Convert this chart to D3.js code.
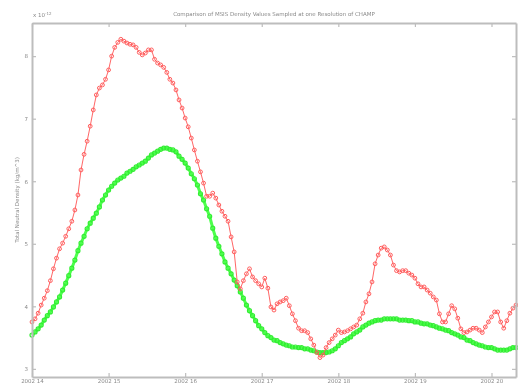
<!DOCTYPE html>
<html>
<head>
<meta charset="utf-8">
<script src="https://cdn.jsdelivr.net/npm/d3@7/dist/d3.min.js"></script>
<style>
  html, body { margin: 0; padding: 0; background: #fff; }
  svg { display: block; }
  text { font-family: "DejaVu Sans", sans-serif; }
</style>
</head>
<body>
<div id="chart"></div>
<script>
// Sampling cadence of the density series (day of month)
const startDay = 14.0;
const stepDay = 0.04;

// Density along the CHAMP orbit, units of 1e-12 kg/m^3
const champDensity = [
  3.75,3.80,3.89,4.02,4.13,4.25,4.41,4.60,4.77,4.92,
  5.01,5.12,5.24,5.36,5.54,5.78,6.18,6.43,6.64,6.88,
  7.14,7.38,7.49,7.54,7.63,7.78,8.00,8.14,8.22,8.27,
  8.24,8.21,8.19,8.18,8.14,8.06,8.02,8.05,8.10,8.10,
  7.95,7.89,7.86,7.82,7.74,7.63,7.57,7.46,7.30,7.17,
  7.01,6.87,6.69,6.50,6.32,6.15,5.97,5.76,5.76,5.81,
  5.73,5.62,5.52,5.44,5.36,5.11,4.87,4.39,4.28,4.41,
  4.52,4.60,4.47,4.41,4.36,4.31,4.45,4.29,3.99,3.94,
  4.04,4.07,4.09,4.13,4.01,3.88,3.77,3.65,3.61,3.61,
  3.58,3.48,3.38,3.26,3.18,3.22,3.34,3.42,3.48,3.54,
  3.62,3.58,3.59,3.61,3.64,3.67,3.70,3.80,3.89,4.07,
  4.20,4.39,4.68,4.82,4.93,4.95,4.90,4.82,4.66,4.57,
  4.55,4.57,4.57,4.53,4.50,4.45,4.36,4.31,4.31,4.26,
  4.21,4.15,4.10,3.88,3.75,3.75,3.88,4.01,3.96,3.81,
  3.64,3.58,3.59,3.62,3.65,3.65,3.62,3.58,3.67,3.75,
  3.83,3.91,3.91,3.75,3.65,3.77,3.89,3.97,4.02
];

// MSIS model density sampled at the same times, units of 1e-12 kg/m^3
const msisDensity = [
  3.54,3.59,3.64,3.70,3.78,3.85,3.91,3.99,4.07,4.15,
  4.26,4.37,4.49,4.61,4.74,4.89,5.01,5.12,5.24,5.33,
  5.41,5.49,5.59,5.70,5.78,5.86,5.92,5.97,6.02,6.05,
  6.08,6.13,6.16,6.19,6.23,6.26,6.29,6.32,6.37,6.42,
  6.45,6.48,6.51,6.53,6.53,6.51,6.50,6.47,6.40,6.35,
  6.29,6.21,6.12,6.04,5.94,5.80,5.70,5.56,5.44,5.25,
  5.09,4.96,4.84,4.71,4.61,4.52,4.42,4.33,4.23,4.13,
  4.02,3.93,3.85,3.77,3.69,3.64,3.58,3.53,3.50,3.46,
  3.45,3.42,3.40,3.38,3.37,3.35,3.35,3.34,3.34,3.32,
  3.32,3.30,3.29,3.27,3.26,3.26,3.26,3.27,3.29,3.32,
  3.37,3.42,3.45,3.48,3.51,3.56,3.59,3.62,3.67,3.70,
  3.73,3.75,3.77,3.78,3.78,3.80,3.80,3.80,3.80,3.80,
  3.78,3.78,3.78,3.77,3.77,3.75,3.75,3.73,3.72,3.72,
  3.70,3.69,3.67,3.65,3.64,3.62,3.61,3.58,3.56,3.54,
  3.51,3.50,3.46,3.45,3.42,3.40,3.38,3.37,3.35,3.34,
  3.34,3.32,3.30,3.30,3.30,3.30,3.32,3.34,3.34
];

const xTickValues = [14, 15, 16, 17, 18, 19, 20];
const xTickLabels = ["2002 14", "2002 15", "2002 16", "2002 17", "2002 18", "2002 19", "2002 20"];
const yTickValues = [3, 4, 5, 6, 7, 8];
const yTickLabels = ["3", "4", "5", "6", "7", "8"];

const titleText = "Comparison of MSIS Density Values Sampled at one Resolution of CHAMP";
const yLabelText = "Total Neutral Density (kg/m^3)";

const W = 518, H = 387;
const m = { left: 32, right: 2, top: 23, bottom: 10 };

const times = champDensity.map((_, i) => startDay + i * stepDay);

const x = d3.scaleLinear()
  .domain([startDay, times[times.length - 1]])
  .range([m.left, W - m.right]);
const y = d3.scaleLinear()
  .domain([2.87, 8.53])
  .range([H - m.bottom, m.top]);

const svg = d3.select("#chart").append("svg")
  .attr("width", W).attr("height", H);

const defs = svg.append("defs");
defs.append("filter").attr("id", "soft")
  .attr("x", "-5%").attr("y", "-5%").attr("width", "110%").attr("height", "110%")
  .append("feGaussianBlur").attr("stdDeviation", 0.55);

const g = svg.append("g").attr("filter", "url(#soft)");

const axisColor = "#bdbdbd";
const textColor = "#8a8a8a";

// Series
const lineGen = d3.line().x((d, i) => x(times[i])).y(d => y(d));

g.append("path").datum(msisDensity)
  .attr("d", lineGen)
  .attr("fill", "none")
  .attr("stroke", "#4dff4d")
  .attr("stroke-width", 3);
g.append("g").selectAll("circle").data(msisDensity).join("circle")
  .attr("cx", (d, i) => x(times[i]))
  .attr("cy", d => y(d))
  .attr("r", 2)
  .attr("fill", "none")
  .attr("stroke", "#33ee33")
  .attr("stroke-width", 1.2);

g.append("path").datum(champDensity)
  .attr("d", lineGen)
  .attr("fill", "none")
  .attr("stroke", "#ff5555")
  .attr("stroke-width", 0.9);
g.append("g").selectAll("circle").data(champDensity).join("circle")
  .attr("cx", (d, i) => x(times[i]))
  .attr("cy", d => y(d))
  .attr("r", 1.9)
  .attr("fill", "none")
  .attr("stroke", "#ff5c5c")
  .attr("stroke-width", 1);

// Axes box with inward ticks
const x0 = m.left, x1 = W - m.right, y0 = H - m.bottom, y1 = m.top;

const xAxisB = d3.axisBottom(x).tickValues(xTickValues)
  .tickFormat((d, i) => xTickLabels[i]).tickSizeInner(-4).tickSizeOuter(0).tickPadding(2);
const xAxisT = d3.axisTop(x).tickValues(xTickValues)
  .tickFormat("").tickSizeInner(-4).tickSizeOuter(0);
const yAxisL = d3.axisLeft(y).tickValues(yTickValues)
  .tickFormat((d, i) => yTickLabels[i]).tickSizeInner(-4).tickSizeOuter(0).tickPadding(4);
const yAxisR = d3.axisRight(y).tickValues(yTickValues)
  .tickFormat("").tickSizeInner(-4).tickSizeOuter(0);

function styleAxis(sel) {
  sel.select(".domain").attr("stroke", axisColor).attr("stroke-width", 2);
  sel.selectAll(".tick line").attr("stroke", axisColor).attr("stroke-width", 1.2);
  sel.selectAll(".tick text").attr("fill", textColor).attr("font-size", 5.5)
    .attr("font-family", "DejaVu Sans, sans-serif");
}

g.append("g").attr("transform", `translate(0,${y0})`).call(xAxisB).call(styleAxis);
g.append("g").attr("transform", `translate(0,${y1})`).call(xAxisT).call(styleAxis);
g.append("g").attr("transform", `translate(${x0},0)`).call(yAxisL).call(styleAxis);
g.append("g").attr("transform", `translate(${x1},0)`).call(yAxisR).call(styleAxis);

// Exponent marker
const expo = g.append("text")
  .attr("x", x0 + 1).attr("y", 17)
  .attr("fill", textColor).attr("font-size", 5.5);
expo.append("tspan").text("x 10");
expo.append("tspan").attr("dy", -2.5).attr("font-size", 4).text("-12");

// Title
g.append("text")
  .attr("x", (x0 + x1) / 2).attr("y", 16)
  .attr("text-anchor", "middle")
  .attr("fill", textColor).attr("font-size", 5.5)
  .text(titleText);

// Y axis label
g.append("text")
  .attr("transform", `translate(19,${(y0 + y1) / 2}) rotate(-90)`)
  .attr("text-anchor", "middle")
  .attr("fill", textColor).attr("font-size", 5.5)
  .text(yLabelText);
</script>
</body>
</html>
